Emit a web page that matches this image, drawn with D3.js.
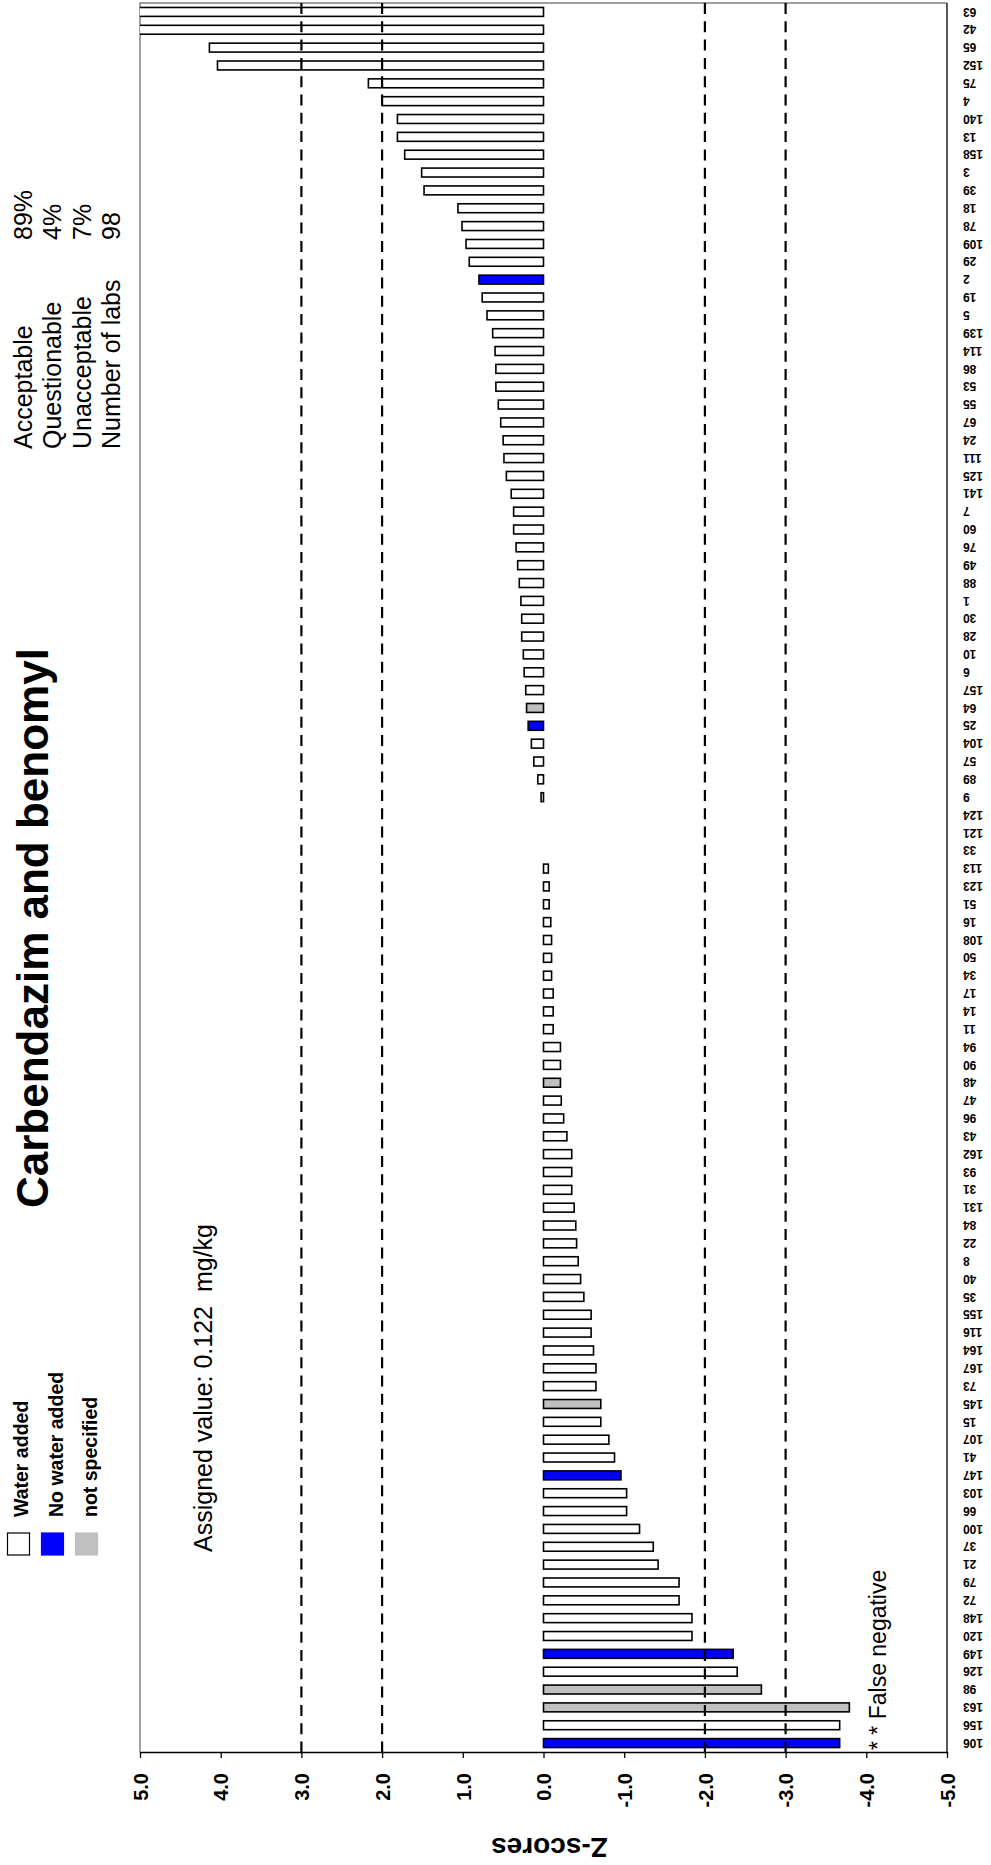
<!DOCTYPE html>
<html>
<head>
<meta charset="utf-8">
<script src="https://cdn.jsdelivr.net/npm/d3@7/dist/d3.min.js"></script>
<style>
  body { margin: 0; background: #fff; }
  svg { display: block; }
  text { font-family: "Liberation Sans", Arial, sans-serif; }
</style>
</head>
<body>
<script>
// Screen dimensions.
const WIDTH = 991;
const HEIGHT = 1865;

// Labs, in the order they sit in the chart (top of the page first).
const labs = [63, 42, 65, 152, 75, 4, 140, 13, 158, 3,
  39, 18, 78, 109, 29, 2, 19, 5, 139, 114,
  86, 53, 55, 67, 24, 111, 125, 141, 7, 60,
  76, 49, 88, 1, 30, 28, 10, 6, 157, 64,
  25, 104, 57, 89, 9, 124, 121, 33, 113, 123,
  51, 16, 108, 50, 34, 17, 14, 11, 94, 90,
  48, 47, 96, 43, 162, 93, 31, 131, 84, 22,
  8, 40, 35, 155, 116, 164, 167, 73, 145, 15,
  107, 41, 147, 103, 66, 100, 37, 21, 79, 72,
  148, 120, 149, 126, 98, 163, 156, 106];

// z-score of each lab (same order). 63 and 42 run off the scale.
const zScores = [6.3, 5.6, 4.14, 4.04, 2.17, 2.0, 1.81, 1.81, 1.72, 1.51,
  1.48, 1.06, 1.01, 0.96, 0.92, 0.80, 0.76, 0.70, 0.63, 0.60,
  0.59, 0.59, 0.56, 0.53, 0.50, 0.49, 0.46, 0.40, 0.37, 0.37,
  0.34, 0.32, 0.30, 0.28, 0.27, 0.27, 0.25, 0.24, 0.22, 0.21,
  0.19, 0.15, 0.12, 0.07, 0.03, 0, 0, 0, -0.06, -0.07,
  -0.07, -0.09, -0.10, -0.10, -0.10, -0.12, -0.12, -0.12, -0.21, -0.21,
  -0.21, -0.22, -0.25, -0.29, -0.35, -0.35, -0.35, -0.38, -0.40, -0.41,
  -0.43, -0.46, -0.50, -0.59, -0.59, -0.62, -0.65, -0.65, -0.71, -0.71,
  -0.81, -0.88, -0.96, -1.03, -1.03, -1.19, -1.36, -1.42, -1.68, -1.68,
  -1.84, -1.84, -2.35, -2.40, -2.70, -3.79, -3.67, -3.67];

// Sample preparation groups.
const noWaterLabs = [2, 25, 147, 149, 106];
const notSpecifiedLabs = [64, 48, 145, 98, 163];
const groupNames = ["Water added", "No water added", "not specified"];
const groupColors = ["#ffffff", "#0000ff", "#c0c0c0"];

// Axis and reference lines.
const zTicks = [5, 4, 3, 2, 1, 0, -1, -2, -3, -4, -5];
const limitLines = [3, 2, -2, -3];

// Summary box.
const statNames = ["Acceptable", "Questionable", "Unacceptable", "Number of labs"];
const statValues = ["89%", "4%", "7%", "98"];
const assignedText = "Assigned value: 0.122  mg/kg";

const groupOf = (lab) => noWaterLabs.includes(lab) ? 1 : (notSpecifiedLabs.includes(lab) ? 2 : 0);
const rows = labs.map((lab, i) => ({ lab: lab, z: zScores[i], group: groupOf(lab) }));

// Plot area (the chart is drawn turned on its side).
const PLOT = { left: 140, right: 947, top: 3, bottom: 1752 };

const svg = d3.select("body").append("svg").attr("width", WIDTH).attr("height", HEIGHT);

const x = d3.scaleLinear().domain([5, -5]).range([PLOT.left, PLOT.right]);
const y = d3.scaleBand().domain(labs).range([PLOT.top, PLOT.bottom]).paddingInner(0.5).paddingOuter(0.25);

svg.append("clipPath").attr("id", "plotclip")
  .append("rect")
  .attr("x", PLOT.left).attr("y", PLOT.top)
  .attr("width", PLOT.right - PLOT.left).attr("height", PLOT.bottom - PLOT.top);

// Plot border (gray) on the high-score side and the top.
svg.append("path")
  .attr("d", `M${PLOT.right},${PLOT.top}H${PLOT.left}V${PLOT.bottom}`)
  .attr("fill", "none").attr("stroke", "#808080").attr("stroke-width", 1.5);

// Bars.
svg.append("g").attr("clip-path", "url(#plotclip)")
  .selectAll("rect").data(rows.filter(d => d.z !== 0)).enter().append("rect")
  .attr("x", d => Math.min(x(d.z), x(0)))
  .attr("y", d => y(d.lab))
  .attr("width", d => Math.abs(x(d.z) - x(0)))
  .attr("height", y.bandwidth())
  .attr("fill", d => groupColors[d.group])
  .attr("stroke", "#000").attr("stroke-width", 1.6);

// Dashed limit lines at +/-2 and +/-3.
svg.append("g").selectAll("line").data(limitLines).enter().append("line")
  .attr("x1", d => x(d)).attr("x2", d => x(d))
  .attr("y1", PLOT.top).attr("y2", PLOT.bottom)
  .attr("stroke", "#000").attr("stroke-width", 2.2)
  .attr("stroke-dasharray", "11,7.3");

// z-score axis along the bottom.
const zAxis = svg.append("g")
  .attr("transform", `translate(0,${PLOT.bottom})`)
  .call(d3.axisBottom(x).tickValues(zTicks).tickSize(6).tickSizeOuter(0)
    .tickFormat(d => d.toFixed(1)));
zAxis.select(".domain").attr("stroke", "#000").attr("stroke-width", 1.5);
zAxis.selectAll(".tick line").attr("stroke", "#000").attr("stroke-width", 1.3);
zAxis.selectAll(".tick text")
  .attr("x", 0).attr("y", 0).attr("dy", "0.36em")
  .attr("transform", "translate(0,21) rotate(-90)")
  .attr("text-anchor", "end")
  .attr("font-family", "'Liberation Sans', Arial, sans-serif")
  .attr("font-weight", "bold").attr("font-size", 20).attr("fill", "#000");

// Lab axis along the right.
const labAxis = svg.append("g")
  .attr("transform", `translate(${PLOT.right},0)`)
  .call(d3.axisRight(y).tickSize(0).tickSizeOuter(0));
labAxis.select(".domain").attr("stroke", "#000").attr("stroke-width", 1.3)
  .attr("d", `M0,${PLOT.top}V${PLOT.bottom}`);
labAxis.selectAll(".tick text")
  .attr("x", 0).attr("dy", "0.36em")
  .attr("transform", "translate(16,0) rotate(180)")
  .attr("text-anchor", "end")
  .attr("font-family", "'Liberation Sans', Arial, sans-serif")
  .attr("font-weight", "bold").attr("font-size", 12).attr("fill", "#000");

// Axis title, upside-down like the rest of the turned chart.
svg.append("text")
  .attr("transform", `translate(${(PLOT.left + PLOT.right) / 2 + 6},1848) rotate(180)`)
  .attr("text-anchor", "middle").attr("dy", "0.36em")
  .attr("font-weight", "bold").attr("font-size", 28)
  .text("Z-scores");

// Title.
svg.append("text")
  .attr("transform", "translate(47.5,1208) rotate(-90)")
  .attr("font-weight", "bold").attr("font-size", 44)
  .text("Carbendazim and benomyl");

// Summary statistics.
const statX = (i) => 31.5 + i * 29.5;
svg.append("g").selectAll("text.statname").data(statNames).enter().append("text")
  .attr("class", "statname")
  .attr("transform", (d, i) => `translate(${statX(i)},449) rotate(-90)`)
  .attr("font-size", 25).text(d => d);
svg.append("g").selectAll("text.statval").data(statValues).enter().append("text")
  .attr("class", "statval")
  .attr("transform", (d, i) => `translate(${statX(i)},240) rotate(-90)`)
  .attr("font-size", 25).text(d => d);

// Assigned value.
svg.append("text")
  .attr("transform", "translate(212,1552) rotate(-90)")
  .attr("font-size", 25).style("white-space", "pre")
  .text(assignedText);

// False negative note.
svg.append("text")
  .attr("transform", "translate(886,1750) rotate(-90)")
  .attr("font-size", 23)
  .text("* * False negative");

// Legend.
const legend = svg.append("g");
legend.selectAll("rect").data(groupNames).enter().append("rect")
  .attr("x", (d, i) => 7.5 + i * 34)
  .attr("y", 1533)
  .attr("width", 22).attr("height", 22)
  .attr("fill", (d, i) => groupColors[i])
  .attr("stroke", (d, i) => i === 0 ? "#000" : groupColors[i])
  .attr("stroke-width", 1.2);
legend.selectAll("text").data(groupNames).enter().append("text")
  .attr("transform", (d, i) => `translate(${28 + i * 34.5},1517) rotate(-90)`)
  .attr("font-family", "Lato, 'Open Sans', sans-serif")
  .attr("font-weight", "bold").attr("font-size", 19.5)
  .text(d => d);
</script>
</body>
</html>
